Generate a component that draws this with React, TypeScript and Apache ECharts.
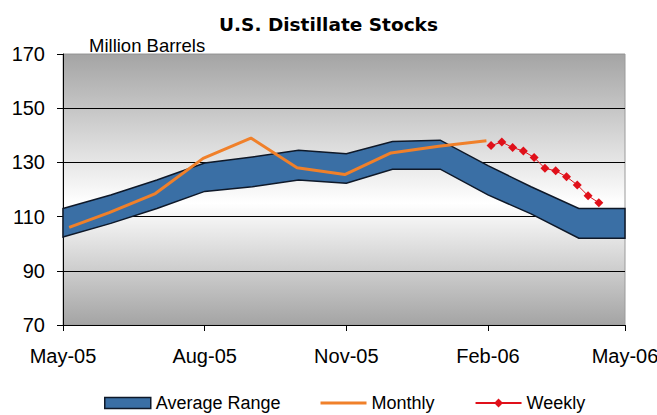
import React, { useEffect, useRef } from 'react';
import * as echarts from 'echarts';

// ---- data ----
const bandDates = [
  '2005-05-01', '2005-06-01', '2005-07-01', '2005-08-01', '2005-09-01', '2005-10-01', '2005-11-01',
  '2005-12-01', '2006-01-01', '2006-02-01', '2006-03-01', '2006-04-01', '2006-05-01',
];
const bandLower = [102.5, 107.5, 113, 119.3, 121, 123.5, 122.3, 127.5, 127.5, 118, 111, 102, 102];
const bandUpper = [113, 118, 123.5, 129.8, 132, 134.5, 133.2, 137.7, 138.2, 128.8, 121, 113, 113];

const monthlyDates = [
  '2005-05-05', '2005-05-31', '2005-06-30', '2005-07-31', '2005-08-31',
  '2005-09-30', '2005-10-31', '2005-11-30', '2005-12-31', '2006-01-31',
];
const monthlyValues = [106, 111.5, 118.5, 131.5, 139, 128, 125.5, 133.5, 136, 138];

const weeklyDates = [
  '2006-02-03', '2006-02-10', '2006-02-17', '2006-02-24', '2006-03-03', '2006-03-10',
  '2006-03-17', '2006-03-24', '2006-03-31', '2006-04-07', '2006-04-14',
];
const weeklyValues = [136.2, 137.5, 135.5, 134.2, 131.8, 127.8, 126.9, 124.7, 121.7, 117.7, 115.1];

const tickDates = ['2005-05-01', '2005-08-01', '2005-11-01', '2006-02-01', '2006-05-01'];
const tickLabels = ['May-05', 'Aug-05', 'Nov-05', 'Feb-06', 'May-06'];

const yMin = 70;
const yMax = 170;
const yInterval = 20;

const FONT = '"Liberation Sans", Arial, sans-serif';
const TITLE_FONT = '"DejaVu Sans", Verdana, sans-serif';

// day number (UTC) so the x axis is a plain linear value axis
function ts(s: string): number {
  const [y, m, d] = s.split('-').map(Number);
  return Date.UTC(y, m - 1, d) / 86400000;
}

export default function App() {
  const ref = useRef<HTMLDivElement>(null);

  useEffect(() => {
    if (!ref.current) return;
    const chart = echarts.init(ref.current, undefined, { renderer: 'svg' });
    const tickTimes = tickDates.map(ts);
    const bandColor = '#3a6fa5';
    const edgeColor = '#0e1828';
    const orange = '#f0802a';
    const red = '#e0101a';
    const xMin = ts(bandDates[0]);
    const xMax = ts(bandDates[bandDates.length - 1]);

    chart.setOption({
      animation: false,
      backgroundColor: '#ffffff',
      title: {
        text: 'U.S. Distillate Stocks',
        left: 'center',
        top: 10,
        textStyle: { fontFamily: TITLE_FONT, fontSize: 18.5, fontWeight: 'bold', color: '#000' },
      },
      graphic: [
        {
          type: 'text',
          left: 89,
          top: 36,
          style: { text: 'Million Barrels', fontFamily: FONT, fontSize: 18.5, fill: '#000' },
        },
      ],
      legend: {
        left: 104,
        top: 394,
        padding: 0,
        itemWidth: 46,
        itemHeight: 11,
        itemGap: 40,
        textStyle: { fontFamily: FONT, fontSize: 18, color: '#000' },
        data: [
          {
            name: 'Average Range',
            icon: 'rect',
            itemStyle: { color: bandColor, borderColor: edgeColor, borderWidth: 1.5 },
          },
          {
            name: 'Monthly',
            icon: 'path://M0,0 M0,11 M0,4 L46,4 L46,7 L0,7 Z',
            itemStyle: { color: orange },
          },
          { name: 'Weekly' },
        ],
      },
      grid: {
        left: 63,
        right: 32,
        top: 54,
        bottom: 90,
        outerBoundsMode: 'none',
        containLabel: false,
        show: true,
        borderColor: '#9a9a9a',
        borderWidth: 1,
        backgroundColor: {
          type: 'linear',
          x: 0,
          y: 0,
          x2: 0,
          y2: 1,
          colorStops: [
            { offset: 0, color: '#a4a4a4' },
            { offset: 0.55, color: '#ffffff' },
            { offset: 1, color: '#a4a4a4' },
          ],
        },
      },
      xAxis: {
        type: 'value',
        min: xMin,
        max: xMax,
        axisLine: { onZero: false, lineStyle: { color: '#000', width: 1 } },
        axisTick: { show: true, length: 6, customValues: tickTimes, lineStyle: { color: '#000' } },
        axisLabel: {
          customValues: tickTimes,
          margin: 21,
          fontFamily: FONT,
          fontSize: 20,
          color: '#000',
          formatter: (v: number) => {
            let best = 0;
            let bestD = Infinity;
            tickTimes.forEach((t, i) => {
              const dd = Math.abs(t - v);
              if (dd < bestD) { bestD = dd; best = i; }
            });
            return tickLabels[best];
          },
        },
        splitLine: { show: false },
      },
      yAxis: {
        type: 'value',
        min: yMin,
        max: yMax,
        interval: yInterval,
        axisLine: { show: true, lineStyle: { color: '#000', width: 1 } },
        axisTick: { show: true, length: 6, lineStyle: { color: '#000' } },
        axisLabel: { margin: 18, fontFamily: FONT, fontSize: 20, color: '#000' },
        splitLine: {
          show: true,
          lineStyle: { color: ['#000', '#000', '#000', '#000', '#000', '#9a9a9a'], width: 1 },
        },
      },
      series: [
        {
          name: 'Average Range',
          type: 'custom',
          z: 2,
          silent: true,
          itemStyle: { color: bandColor },
          encode: { x: 0, y: [1, 2] },
          data: bandDates.map((d, i) => [ts(d), bandLower[i], bandUpper[i]]),
          renderItem: (params: any, api: any) => {
            if (params.dataIndex !== 0) return null;
            const up = bandDates.map((d, i) => api.coord([ts(d), bandUpper[i]]));
            const lo = bandDates.map((d, i) => api.coord([ts(d), bandLower[i]])).reverse();
            return {
              type: 'polygon',
              shape: { points: up.concat(lo) },
              style: { fill: bandColor, stroke: edgeColor, lineWidth: 1.5 },
            };
          },
        },
        {
          name: 'Monthly',
          type: 'line',
          z: 4,
          symbol: 'none',
          data: monthlyDates.map((d, i) => [ts(d), monthlyValues[i]]),
          lineStyle: { color: orange, width: 3 },
          itemStyle: { color: orange },
        },
        {
          name: 'Weekly',
          type: 'line',
          z: 5,
          symbol: 'diamond',
          symbolSize: 9,
          data: weeklyDates.map((d, i) => [ts(d), weeklyValues[i]]),
          lineStyle: { color: red, width: 1 },
          itemStyle: { color: red },
        },
      ],
    });

    return () => chart.dispose();
  }, []);

  return <div ref={ref} style={{ position: 'fixed', left: 0, top: 0, width: 657, height: 415 }} />;
}
